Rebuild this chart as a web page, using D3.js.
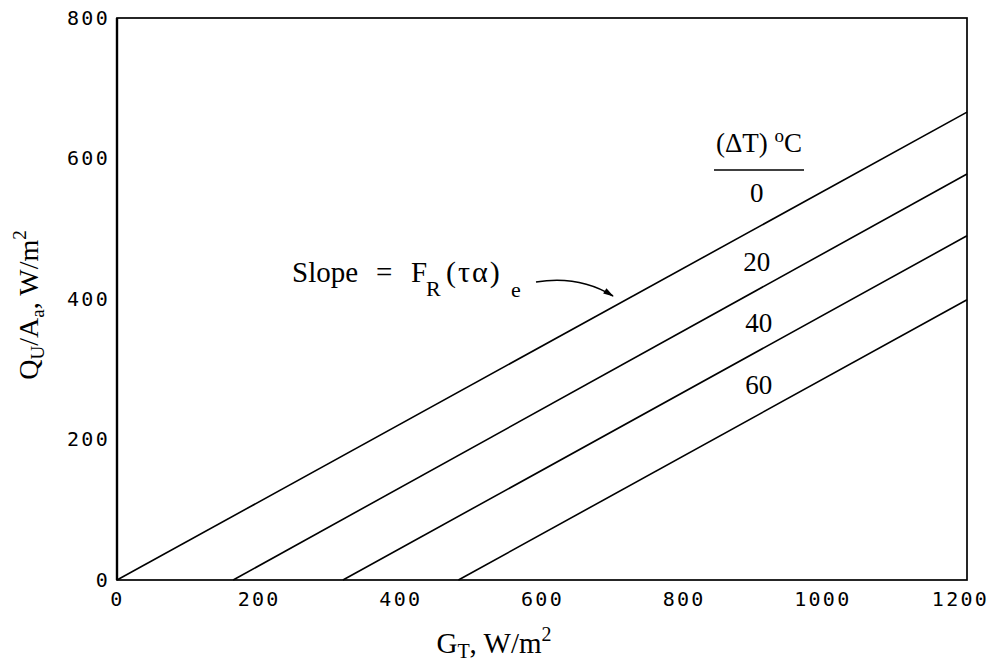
<!DOCTYPE html>
<html>
<head>
<meta charset="utf-8">
<script src="https://cdn.jsdelivr.net/npm/d3@7"></script>
<style>
  html, body { margin: 0; padding: 0; background: #fff; }
  svg { display: block; }
  .tick text { font-family: "DejaVu Sans Mono", monospace; font-size: 20px; letter-spacing: 2.3px; fill: #000; }
  .serif { font-family: "Liberation Serif", "Times New Roman", serif; fill: #000; }
</style>
</head>
<body>
<svg id="chart" width="995" height="664"></svg>
<script>
// ---- data ----
const deltaT = [0, 20, 40, 60];           // (ΔT) °C
const xStart = [0, 164, 319, 482];        // G_T where Q_U/A_a = 0
const yAtEnd = [666, 578, 490, 399];      // Q_U/A_a at G_T = 1200
const xEnd = 1200;
const xTicks = [0, 200, 400, 600, 800, 1000, 1200];
const yTicks = [0, 200, 400, 600, 800];
// label anchor positions (data units)
const labelX = [903, 903, 906, 906];
const labelY = [551, 453, 366, 278];

const svg = d3.select("#chart");
const margin = { left: 117, right: 28, top: 18, bottom: 84 };
const W = 995, H = 664;
const x = d3.scaleLinear().domain([0, 1200]).range([margin.left, W - margin.right]);
const y = d3.scaleLinear().domain([0, 800]).range([H - margin.bottom, margin.top]);

// axes (labels only, no tick marks)
const xAxis = svg.append("g")
  .attr("transform", `translate(0,${y(0)})`)
  .call(d3.axisBottom(x).tickValues(xTicks).tickSize(0).tickPadding(12).tickFormat(d3.format("d")));
xAxis.select(".domain").remove();
xAxis.selectAll("text").attr("dy", "0.71em")
  .attr("dx", d => d === 1200 ? -7 : (d === 1000 ? -3 : 0));

const yAxis = svg.append("g")
  .attr("transform", `translate(${x(0)},0)`)
  .call(d3.axisLeft(y).tickValues(yTicks).tickSize(0).tickPadding(7).tickFormat(d3.format("d")));
yAxis.select(".domain").remove();

// frame
svg.append("rect")
  .attr("x", x(0)).attr("y", y(800))
  .attr("width", x(1200) - x(0)).attr("height", y(0) - y(800))
  .attr("fill", "none").attr("stroke", "#000").attr("stroke-width", 1.7);
svg.append("line")
  .attr("x1", x(0)).attr("x2", x(0)).attr("y1", y(800)).attr("y2", y(0))
  .attr("stroke", "#000").attr("stroke-width", 2.4);

// lines
const series = deltaT.map((d, i) => ({ dt: d, pts: [[xStart[i], 0], [xEnd, yAtEnd[i]]] }));
const line = d3.line().x(d => x(d[0])).y(d => y(d[1]));
svg.append("g").selectAll("path").data(series).join("path")
  .attr("d", d => line(d.pts))
  .attr("fill", "none").attr("stroke", "#000").attr("stroke-width", 1.6);

// line labels
svg.append("g").selectAll("text").data(deltaT).join("text")
  .attr("class", "serif")
  .attr("x", (d, i) => x(labelX[i])).attr("y", (d, i) => y(labelY[i]))
  .attr("text-anchor", "middle").attr("dominant-baseline", "central")
  .attr("font-size", 27)
  .text(d => d);

// legend title
const title = svg.append("text").attr("class", "serif")
  .attr("x", 759).attr("y", 152).attr("text-anchor", "middle").attr("font-size", 27);
title.append("tspan").text("(ΔT) ");
title.append("tspan").attr("font-size", 19).attr("dy", -10).text("o");
title.append("tspan").attr("dy", 10).text("C");
svg.append("line").attr("x1", 714).attr("x2", 804).attr("y1", 170).attr("y2", 170)
  .attr("stroke", "#000").attr("stroke-width", 1.6);

// slope annotation
const sg = svg.append("g").attr("class", "serif");
sg.append("text").attr("x", 292).attr("y", 282).attr("font-size", 29).text("Slope");
sg.append("text").attr("x", 376).attr("y", 282).attr("font-size", 29).text("=");
sg.append("text").attr("x", 411).attr("y", 282).attr("font-size", 29).text("F");
sg.append("text").attr("x", 426).attr("y", 296).attr("font-size", 22).text("R");
sg.append("text").attr("x", 446).attr("y", 282).attr("font-size", 30).attr("letter-spacing", 2).text("(τα)");
sg.append("text").attr("x", 511).attr("y", 297).attr("font-size", 22).text("e");

svg.append("defs").append("marker")
  .attr("id", "ah").attr("viewBox", "0 0 12 8").attr("refX", 11).attr("refY", 4)
  .attr("markerWidth", 13).attr("markerHeight", 7).attr("markerUnits", "userSpaceOnUse")
  .attr("orient", "auto")
  .append("path").attr("d", "M0,0.5 L12,4 L0,7.5 Z").attr("fill", "#000");
svg.append("path")
  .attr("d", "M536,282 Q579,275 613,296")
  .attr("fill", "none").attr("stroke", "#000").attr("stroke-width", 1.6)
  .attr("marker-end", "url(#ah)");

// axis titles
const xl = svg.append("text").attr("class", "serif")
  .attr("x", 494).attr("y", 653).attr("text-anchor", "middle").attr("font-size", 29);
xl.append("tspan").text("G");
xl.append("tspan").attr("font-size", 20).attr("dy", 5).text("T");
xl.append("tspan").attr("dy", -5).text(", W/m");
xl.append("tspan").attr("font-size", 20).attr("dy", -12).text("2");

const yl = svg.append("text").attr("class", "serif")
  .attr("transform", "translate(38,305) rotate(-90)")
  .attr("text-anchor", "middle").attr("font-size", 28);
yl.append("tspan").text("Q");
yl.append("tspan").attr("font-size", 19).attr("dy", 6).text("U");
yl.append("tspan").attr("dy", -6).text("/A");
yl.append("tspan").attr("font-size", 19).attr("dy", 6).text("a");
yl.append("tspan").attr("dy", -6).text(", W/m");
yl.append("tspan").attr("font-size", 19).attr("dy", -12).text("2");
</script>
</body>
</html>
